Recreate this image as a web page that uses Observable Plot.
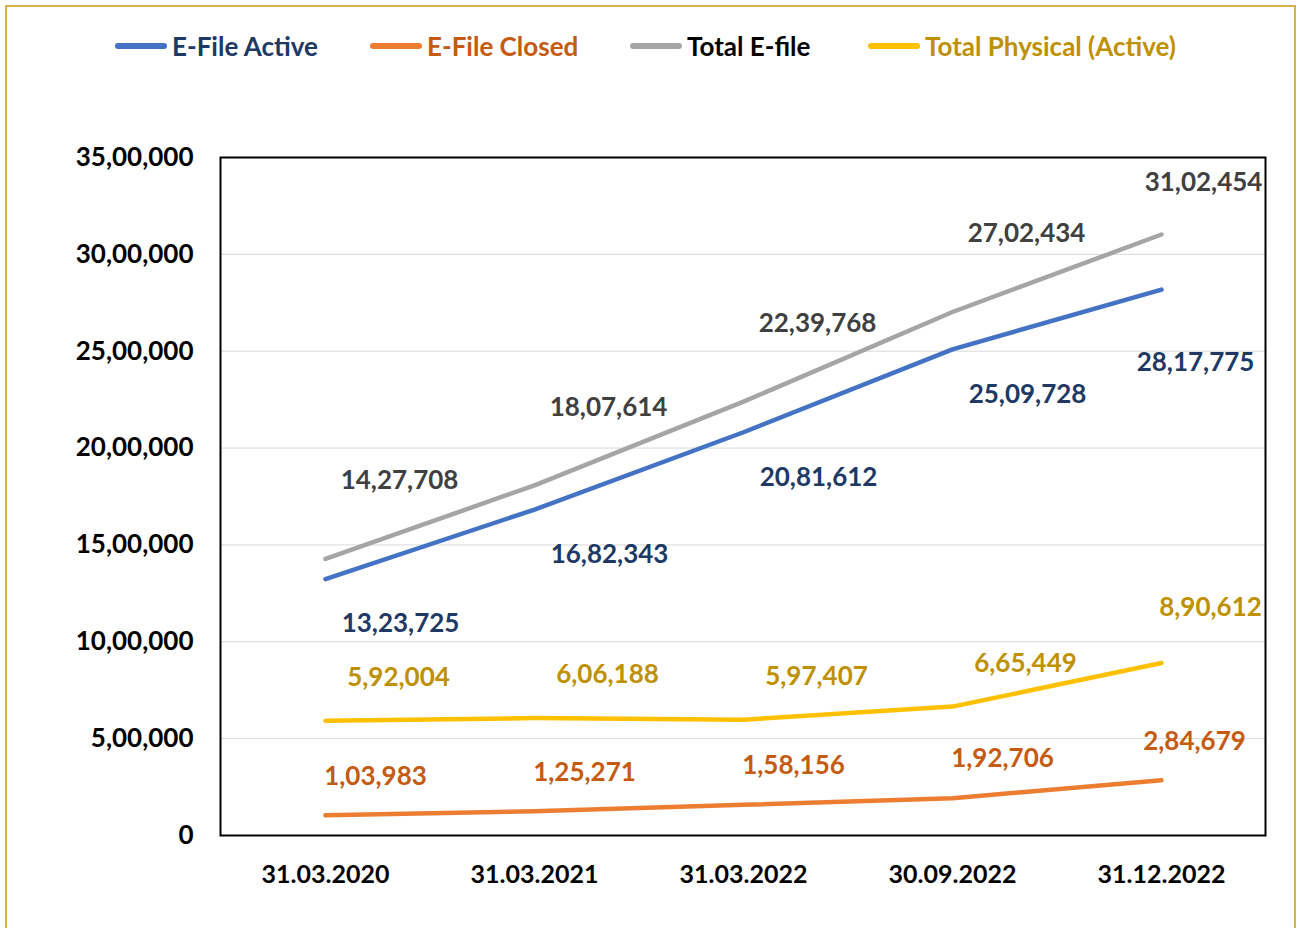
<!DOCTYPE html>
<html>
<head>
<meta charset="utf-8">
<script src="https://cdn.jsdelivr.net/npm/d3@7"></script>
<script src="https://cdn.jsdelivr.net/npm/@observablehq/plot@0.6"></script>
<style>
  html, body { margin: 0; padding: 0; background: #ffffff; }
  #wrap { position: relative; width: 1300px; height: 928px; overflow: hidden; font-family: Lato, "Open Sans", sans-serif; }
  #border { position: absolute; left: 5px; top: 5px; width: 1291px; height: 940px; border: 2px solid #d6b24e; box-sizing: border-box; }
  #legend { position: absolute; left: 0; top: 0; width: 1300px; height: 100px; }
  .item { position: absolute; top: 30px; display: flex; align-items: center; font-weight: 700; font-size: 26px; white-space: nowrap; }
  .swatch { width: 52px; height: 6px; border-radius: 3px; margin-right: 5px; }
  #chart { position: absolute; left: 0; top: 130px; }
</style>
</head>
<body>
<div id="wrap">
  <div id="border"></div>
  <div id="legend"></div>
  <div id="chart"></div>
</div>
<script>
// ---- data ----
const dates = ["31.03.2020", "31.03.2021", "31.03.2022", "30.09.2022", "31.12.2022"];
const eFileActive = [1323725, 1682343, 2081612, 2509728, 2817775];
const eFileClosed = [103983, 125271, 158156, 192706, 284679];
const totalEFile = [1427708, 1807614, 2239768, 2702434, 3102454];
const totalPhysical = [592004, 606188, 597407, 665449, 890612];
const seriesNames = ["E-File Active", "E-File Closed", "Total E-file", "Total Physical (Active)"];
const yTicks = [0, 500000, 1000000, 1500000, 2000000, 2500000, 3000000, 3500000];

// ---- styles ----
const lineColors = {"E-File Active": "#4472c4", "E-File Closed": "#ed7d31", "Total E-file": "#a5a5a5", "Total Physical (Active)": "#ffc000"};
const textColors = {"E-File Active": "#203864", "E-File Closed": "#c55a11", "Total E-file": "#000000", "Total Physical (Active)": "#bf9000"};
const labelColors = {"E-File Active": "#203864", "E-File Closed": "#c55a11", "Total E-file": "#404040", "Total Physical (Active)": "#bf9000"};
const labelOffsets = {
  "E-File Active": {main: [75, 45], last: [34, 73]},
  "E-File Closed": {main: [50, -39], last: [33, -39]},
  "Total E-file": {main: [74, -78], last: [42, -52]},
  "Total Physical (Active)": {main: [73, -43], last: [49, -55]}
};
const legendLefts = [115, 370, 630, 868];

function indian(n) {
  const s = String(Math.round(n));
  if (s.length <= 3) return s;
  const last3 = s.slice(-3);
  const rest = s.slice(0, -3).replace(/\B(?=(\d{2})+(?!\d))/g, ",");
  return rest + "," + last3;
}

const valuesBySeries = [eFileActive, eFileClosed, totalEFile, totalPhysical];
const rows = [];
seriesNames.forEach((name, si) => {
  dates.forEach((d, i) => rows.push({series: name, date: d, value: valuesBySeries[si][i], idx: i}));
});

// legend
const legend = document.getElementById("legend");
seriesNames.forEach((name, i) => {
  const it = document.createElement("div");
  it.className = "item";
  it.style.left = legendLefts[i] + "px";
  it.style.color = textColors[name];
  const sw = document.createElement("div");
  sw.className = "swatch";
  sw.style.background = lineColors[name];
  it.appendChild(sw);
  const t = document.createElement("span");
  t.textContent = name;
  it.appendChild(t);
  legend.appendChild(it);
});

const marks = [
  Plot.gridY(yTicks, {stroke: "#d9d9d9", strokeOpacity: 1, strokeWidth: 1}),
  Plot.frame({stroke: "#000000", strokeWidth: 2}),
  Plot.axisY(yTicks, {tickSize: 0, tickPadding: 27, tickFormat: indian, fontSize: 26, fontWeight: 700, fill: "#000"}),
  Plot.axisX({tickSize: 0, tickPadding: 30, fontSize: 25, fontWeight: 700, fill: "#000"})
];
// draw order: Closed, Physical, Active, Total
["E-File Closed", "Total Physical (Active)", "E-File Active", "Total E-file"].forEach(name => {
  marks.push(Plot.line(rows.filter(r => r.series === name), {
    x: "date", y: "value", stroke: lineColors[name], strokeWidth: 4.5, strokeLinecap: "round", strokeLinejoin: "round"
  }));
});
seriesNames.forEach(name => {
  const off = labelOffsets[name];
  const data = rows.filter(r => r.series === name);
  marks.push(Plot.text(data.filter(r => r.idx < dates.length - 1), {
    x: "date", y: "value", text: d => indian(d.value), dx: off.main[0], dy: off.main[1],
    fill: labelColors[name], fontSize: 26, fontWeight: 700
  }));
  marks.push(Plot.text(data.filter(r => r.idx === dates.length - 1), {
    x: "date", y: "value", text: d => indian(d.value), dx: off.last[0], dy: off.last[1],
    fill: labelColors[name], fontSize: 26, fontWeight: 700
  }));
});

const chart = Plot.plot({
  width: 1300,
  height: 790,
  marginLeft: 220,
  marginRight: 35,
  marginTop: 27,
  marginBottom: 85,
  style: {fontFamily: "Lato, 'Open Sans', sans-serif", background: "transparent", overflow: "visible"},
  x: {type: "point", domain: dates, padding: 0.5, label: null},
  y: {domain: [0, 3500000], label: null},
  marks
});
document.getElementById("chart").appendChild(chart);
</script>
</body>
</html>
